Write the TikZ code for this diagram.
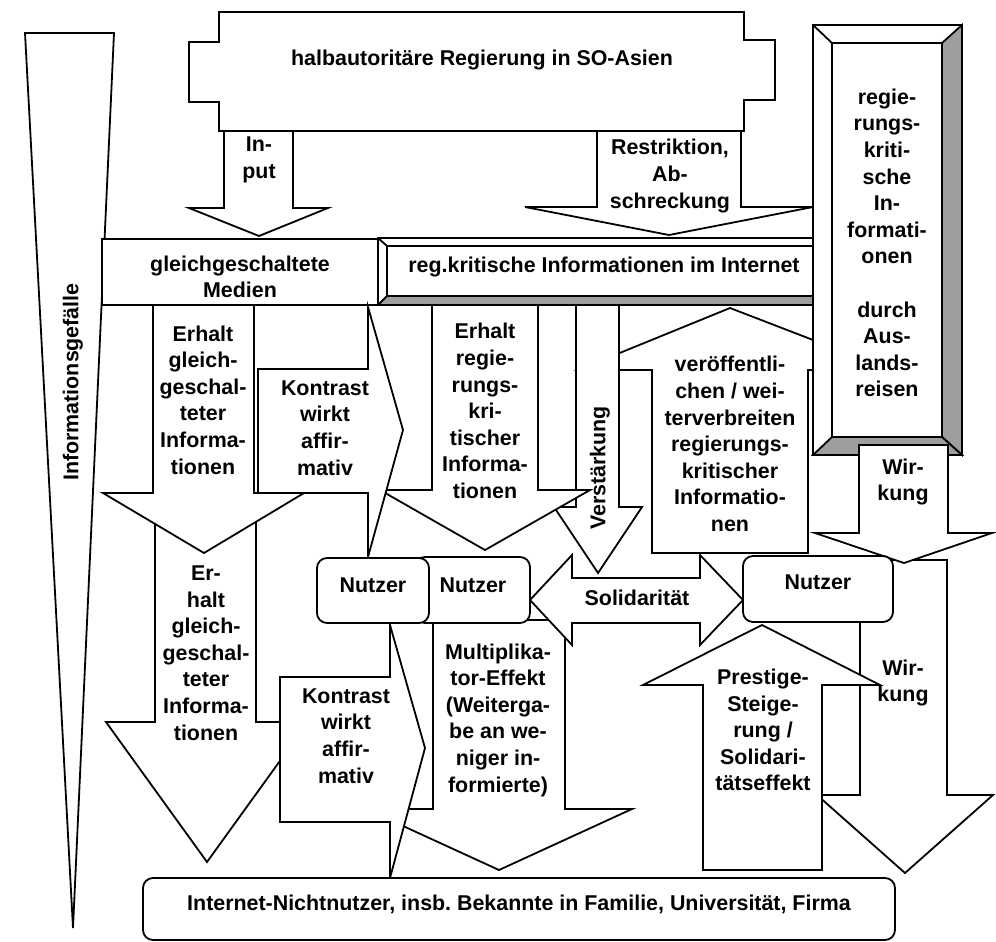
\documentclass[tikz,border=0pt]{standalone}
\usepackage{fontspec}
\setmainfont{Liberation Sans}
\frenchspacing
\definecolor{bevel}{rgb}{.62,.62,.62}

\begin{document}
\begin{tikzpicture}[x=0.5pt, y=-0.5pt,
	blk/.style={draw, fill=white, line width=0.9pt, line join=miter},
	bevelside/.style={draw, fill=bevel, line width=0.9pt},
	nutzerbox/.style={blk, rounded corners=5pt},
	lbl/.style={align=center, inner sep=0pt, font=\fontsize{10.7}{13.3}\selectfont\bfseries}]

	\useasboundingbox (0,0) rectangle (996,942);

	\draw[blk] (25,33) -- (114,33) -- (73,928) -- cycle;
	\node[lbl, rotate=90] (gefaelle) at (73,382) {Informationsgefälle};

	\draw[blk] (224,131) -- (293,131) -- (293,208) -- (328,208) -- (259,236) -- (189,208) -- (224,208) -- cycle;
	\draw[blk] (597,131) -- (741,131) -- (741,207) -- (813,207) -- (669,235) -- (525,207) -- (597,207) -- cycle;
	\draw[blk] (219,12) -- (744,12) -- (744,40) -- (775,40) -- (775,100) -- (744,100) -- (744,131) -- (219,131) -- (219,102) -- (189,102) -- (189,42) -- (219,42) -- cycle;

	\draw[blk] (102,239) rectangle (378,305);
	\draw[blk] (378,238) rectangle (830,305);
	\draw[bevelside] (378,305) -- (387,296) -- (830,296) -- (830,305) -- cycle;
	\draw[line width=0.9pt] (378,238) -- (387,246) -- (830,246) (387,246) -- (387,296);

	\draw[blk] (652,553) -- (652,370) -- (578,370) -- (730,308) -- (891,370) -- (808,370) -- (808,553) -- cycle;

	\draw[blk] (813,25) rectangle (962,455);
	\draw[bevelside] (962,25) -- (942,43) -- (942,437) -- (962,455) -- cycle;
	\draw[bevelside] (813,455) -- (832,437) -- (942,437) -- (962,455) -- cycle;
	\draw[line width=0.9pt] (813,25) -- (832,43) rectangle (942,437);

	\draw[blk] (576,305) -- (619,305) -- (619,507) -- (642,507) -- (598,573) -- (554,507) -- (576,507) -- cycle;
	\draw[blk] (432,305) -- (538,305) -- (538,490) -- (590,490) -- (485,550) -- (380,490) -- (432,490) -- cycle;
	\draw[blk] (155,500) -- (256,500) -- (256,722) -- (308,722) -- (207,862) -- (106,722) -- (155,722) -- cycle;
	\draw[blk] (153,305) -- (254,305) -- (254,493) -- (304,493) -- (204,553) -- (103,493) -- (153,493) -- cycle;
	\draw[blk] (258,369) -- (368,369) -- (368,307) -- (403,430) -- (368,557) -- (368,493) -- (258,493) -- cycle;

	\draw[blk] (433,620) -- (565,620) -- (565,809) -- (632,809) -- (499,870) -- (366,809) -- (433,809) -- cycle;
	\draw[blk] (280,677) -- (390,677) -- (390,625) -- (425,748) -- (390,878) -- (390,822) -- (280,822) -- cycle;

	\draw[blk] (860,560) -- (947,560) -- (947,795) -- (993,795) -- (905,873) -- (817,795) -- (860,795) -- cycle;
	\draw[blk] (859,445) -- (948,445) -- (948,533) -- (992,533) -- (904,563) -- (815,533) -- (859,533) -- cycle;
	\draw[blk] (703,870) -- (703,685) -- (643,685) -- (762,625) -- (880,685) -- (822,685) -- (822,870) -- cycle;
	\draw[blk] (530,600) -- (572,555) -- (572,578) -- (700,578) -- (700,555) -- (743,600) -- (700,645) -- (700,623) -- (572,623) -- (572,645) -- cycle;

	\draw[nutzerbox] (415,557) rectangle (530,623);
	\draw[nutzerbox] (317,558) rectangle (429,623);
	\draw[nutzerbox] (743,556) rectangle (893,622);
	\draw[nutzerbox] (143,878) rectangle (895,940);

	\node[lbl] (gov) at (482,60) {halbautoritäre Regierung in SO-Asien};
	\node[lbl] (input) at (259,160) {In-\\put};
	\node[lbl] (restr) at (670,176) {Restriktion,\\Ab-\\schreckung};
	\node[lbl] (medien) at (240,277) {gleichgeschaltete\\Medien};
	\node[lbl] (internet) at (604,267) {reg.kritische Informationen im Internet};
	\node[lbl] (reisen) at (887,243) {regie-\\rungs-\\kriti-\\sche\\In-\\formati-\\onen\\[13.3pt]durch\\Aus-\\lands-\\reisen};

	\node[lbl] (erhalt) at (203,400) {Erhalt\\gleich-\\geschal-\\teter\\Informa-\\tionen};
	\node[lbl] (erhaltb) at (206,653) {Er-\\halt\\gleich-\\geschal-\\teter\\Informa-\\tionen};
	\node[lbl] (kontrast) at (325,428) {Kontrast\\wirkt\\affir-\\mativ};
	\node[lbl] (kontrastb) at (346,736) {Kontrast\\wirkt\\affir-\\mativ};
	\node[lbl] (erhaltreg) at (485,411) {Erhalt\\regie-\\rungs-\\kri-\\tischer\\Informa-\\tionen};
	\node[lbl, rotate=90] (verst) at (600,468) {Verstärkung};
	\node[lbl] (veroeff) at (730,444) {veröffentli-\\chen / wei-\\terverbreiten\\regierungs-\\kritischer\\Informatio-\\nen};
	\node[lbl] (wirkung) at (903,482) {Wir-\\kung};
	\node[lbl] (wirkungb) at (903,683) {Wir-\\kung};

	\node[lbl] (nutzer) at (373,585) {Nutzer};
	\node[lbl] (nutzerb) at (473,585) {Nutzer};
	\node[lbl] (nutzerc) at (818,582) {Nutzer};
	\node[lbl] (soli) at (637,598) {Solidarität};
	\node[lbl] (multi) at (498,720) {Multiplika-\\tor-Effekt\\(Weiterga-\\be an we-\\niger in-\\formierte)};
	\node[lbl] (prestige) at (763,730) {Prestige-\\Steige-\\rung /\\Solidari-\\tätseffekt};
	\node[lbl] (nicht) at (519,904) {Internet-Nichtnutzer, insb. Bekannte in Familie, Universität, Firma};

\end{tikzpicture}
\end{document}
